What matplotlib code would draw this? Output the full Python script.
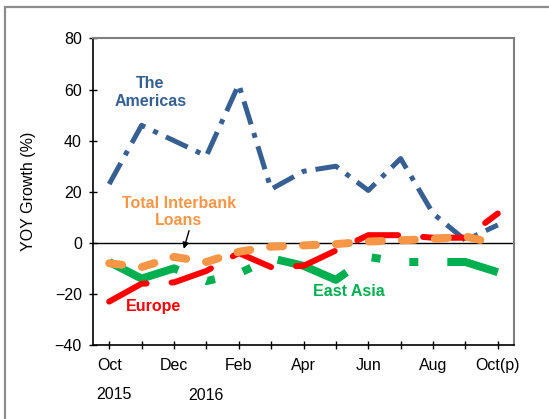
import matplotlib
matplotlib.use('Agg')
import matplotlib.pyplot as plt
from matplotlib.patches import Rectangle

plt.rcParams['font.family'] = ['Liberation Sans', 'DejaVu Sans']
plt.rcParams['lines.scale_dashes'] = False

# %% data (YOY growth, %)
months = ['Oct', 'Nov', 'Dec', 'Jan', 'Feb', 'Mar', 'Apr',
          'May', 'Jun', 'Jul', 'Aug', 'Sep', 'Oct(p)']
tick_labels = ['Oct', '', 'Dec', '', 'Feb', '', 'Apr',
               '', 'Jun', '', 'Aug', '', 'Oct(p)']
americas = [23, 46, 40, 34, 62, 21, 28, 30, 20.5, 33, 11.5, 1, 7]
europe = [-23, -16, -15.5, -11, -4, -9.5, -9, -3, 3, 3, 2, 2, 11.5]
total_interbank = [-8, -9.5, -5.5, -7.5, -3.5, -1.5, -1, -0.5, 0.5, 1, 1.5, 2.5, -0.5]
east_asia = [-7.5, -14, -10, -15, -12, -6, -9, -14.5, -5.5, -7.5, -7.5, -7.5, -11.5]
years = ['2015', '2016']

# %%
DPI = 100
px = 72 / DPI  # pixels -> points

fig = plt.figure(figsize=(5.49, 4.19), dpi=DPI)
ax = fig.add_axes([93 / 549, 1 - 345 / 419, (514 - 93) / 549, (345 - 38.5) / 419])
x = list(range(len(months)))

blue = '#376092'
red = '#FF0000'
orange = '#F79646'
green = '#00B050'

ax.plot(x, east_asia, color=green, lw=8 * px, solid_capstyle='butt',
        dash_capstyle='butt', zorder=2,
        dashes=[75 * px, 30 * px, 9 * px, 29 * px, 9 * px, 29 * px])
ax.plot(x, americas, color=blue, lw=5 * px, dash_capstyle='butt', zorder=3,
        dashes=[24 * px, 9 * px, 5 * px, 9 * px])
ax.plot(x, europe, color=red, lw=6 * px, dash_capstyle='round', zorder=4,
        dashes=[42 * px, 25 * px])
ax.plot(x, total_interbank, color=orange, lw=8 * px, dash_capstyle='round',
        zorder=5, dashes=[13 * px, 20 * px])

ax.axhline(0, color='black', lw=1, zorder=1)

ax.set_xlim(-0.5, len(months) - 0.5)
ax.set_ylim(-40, 80)
ax.set_yticks(range(-40, 81, 20))
ax.set_xticks(x)
ax.set_xticklabels(tick_labels)
ax.tick_params(axis='both', direction='inout', length=6, width=1,
               labelsize=11.5, color='black')
ax.tick_params(axis='x', pad=6)
ax.tick_params(axis='y', pad=5)

for side in ['left', 'bottom']:
    ax.spines[side].set_color('black')
    ax.spines[side].set_linewidth(1.2)
for side in ['top', 'right']:
    ax.spines[side].set_color('#7f7f7f')
    ax.spines[side].set_linewidth(1.5)

ax.set_ylabel('YOY Growth (%)', fontsize=11.5)
ax.yaxis.set_label_coords(-0.135, 0.5)

# year labels under the month labels
trans = ax.get_xaxis_transform()
ax.text(0.15, -0.16, years[0], transform=trans, ha='center', va='center',
        fontsize=11.5)
ax.text(3, -0.165, years[1], transform=trans, ha='center', va='center',
        fontsize=11.5)

# series labels
ax.text(1.27, 58.8, 'The\nAmericas', color=blue, fontsize=11.5,
        fontweight='bold', ha='center', va='center', linespacing=1.2)
ax.text(2.15, 12, 'Total Interbank\nLoans', color=orange, fontsize=11.5,
        fontweight='bold', ha='center', va='center', linespacing=1.2)
ax.text(1.38, -25.1, 'Europe', color=red, fontsize=11.5,
        fontweight='bold', ha='center', va='center')
ax.text(7.39, -19.2, 'East Asia', color=green, fontsize=11.5,
        fontweight='bold', ha='center', va='center')
ax.annotate('', xy=(2.28, -3.4), xytext=(2.49, 5.8),
            arrowprops=dict(arrowstyle='-|>', color='black', lw=1,
                            mutation_scale=9), zorder=6)

# outer chart frame
fig.patches.append(Rectangle((5 / 549, -0.1), 2, 1 - 7.3 / 419 + 0.1,
                             transform=fig.transFigure, fill=False,
                             ec='#8c8c8c', lw=1.6))

plt.savefig('out.png', dpi=DPI)
